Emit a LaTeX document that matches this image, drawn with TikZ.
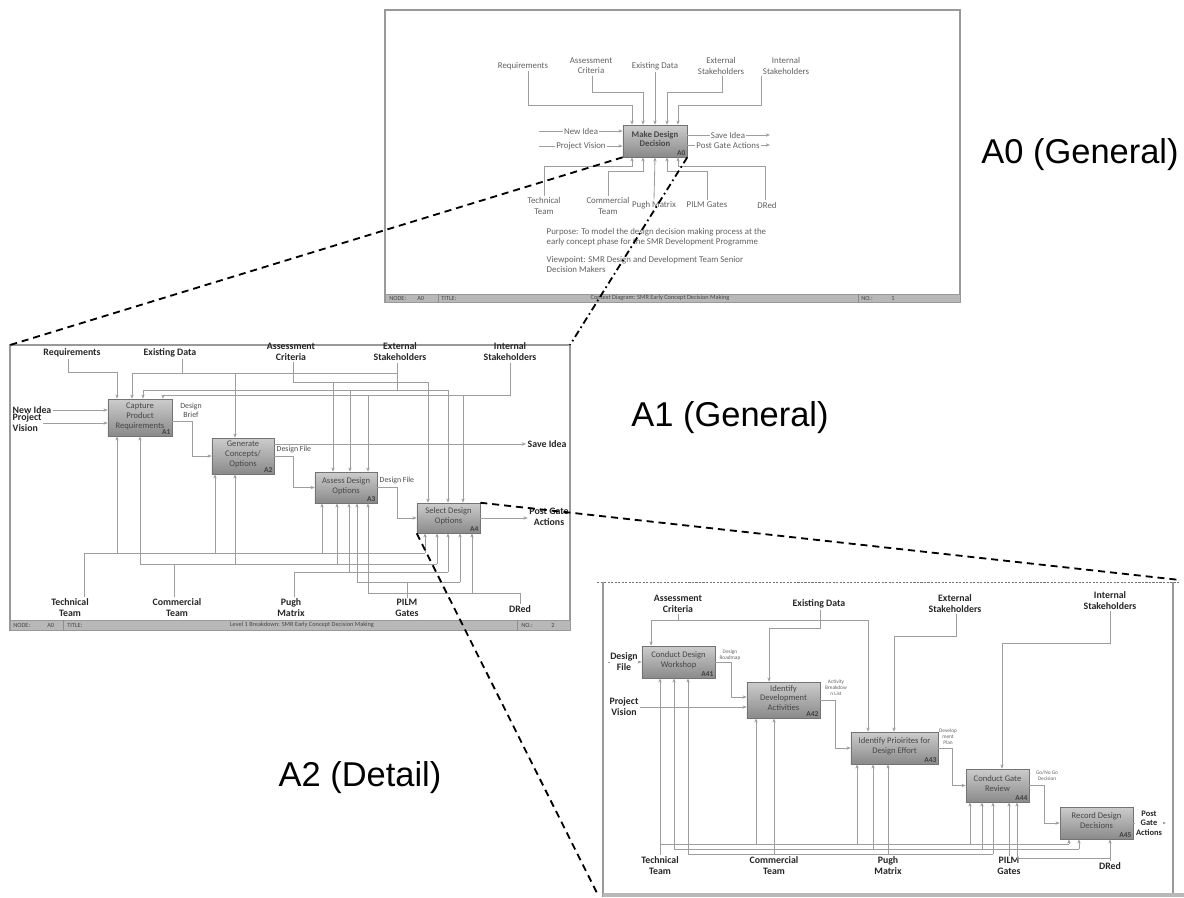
\documentclass[tikz,border=0pt]{standalone}
\usepackage{fontspec}
\setmainfont{Carlito}
\newfontfamily\headfont{Liberation Sans}
\usetikzlibrary{arrows.meta,positioning,calc}

\tikzset{
  act/.style={draw=black!55, top color=black!20, bottom color=black!46, inner sep=1pt,
    align=center, text=black!72, text depth=3pt, font=\fontsize{6.1}{7}\selectfont},
  num/.style={label={[anchor=south east, inner sep=1.2pt, text=black!75,
    font=\bfseries\fontsize{5.3}{6}\selectfont]south east:#1}},
  wire/.style={draw=black!38, line width=0.6pt},
  flow/.style={wire, -{Stealth[length=3pt,width=2.4pt]}},
  ctx/.style={text=black!62, align=center, inner sep=1pt, font=\fontsize{6.3}{7.2}\selectfont},
  tag/.style={text=black!85, align=center, inner sep=1pt, font=\bfseries\fontsize{7}{7.8}\selectfont},
  note/.style={text=black!62, align=center, inner sep=0.4pt, font=\fontsize{3.8}{4.3}\selectfont},
  frame/.style={draw=black!40, line width=0.8pt},
  bar/.style={fill=black!28, draw=black!40, line width=0.4pt},
  bartxt/.style={text=black!72, inner sep=0pt, font=\fontsize{4.5}{5}\selectfont},
  zoomline/.style={line width=1.3pt, dash pattern=on 5pt off 3.5pt},
  big/.style={font=\headfont\fontsize{24.5}{28}\selectfont},
}

\begin{document}
\begin{tikzpicture}[x=0.025cm, y=-0.025cm]
\useasboundingbox (0,0) rectangle (1184,897);

% panel corners
\coordinate (p1nw) at (10,345);
\coordinate (p1ne) at (570,345);
\coordinate (p2ne) at (1180,580);
\coordinate (p2sw) at (597,893);

%% ---------- A0 context diagram ----------
\draw[frame] (385,10) rectangle (960,302);
\draw[bar] (385,294) rectangle (960,302);
\draw[black!45] (438,294) -- (438,302) (858,294) -- (858,302);
\node[bartxt, anchor=west] (n0a) at (389,298) {NODE:};
\node[bartxt, anchor=west] (n0b) at (417,298) {A0};
\node[bartxt, anchor=west] (n0c) at (441,298) {TITLE:};
\node[bartxt] (n0d) at (660,298) {Context Diagram: SMR Early Concept Decision Making};
\node[bartxt, anchor=west] (n0e) at (861,298) {NO.:};
\node[bartxt] (n0f) at (893,298) {1};

\node[act, num=A0, minimum width=1.6cm, minimum height=0.8cm,
  font=\bfseries\fontsize{6.2}{7}\selectfont] (a0) at (655,141) {Make Design\\Decision};

\node[ctx] (lReq0) at (523,66) {Requirements};
\node[ctx] (lAss0) at (591,66) {Assessment\\Criteria};
\node[ctx] (lExi0) at (655,66) {Existing Data};
\node[ctx] (lExt0) at (721,66) {External\\Stakeholders};
\node[ctx] (lInt0) at (786,66) {Internal\\Stakeholders};

\draw[flow] (528,0 |- lReq0.south) |- (632,105) -- (632,0 |- a0.north);
\draw[flow] (592,0 |- lAss0.south) |- (643,92) -- (643,0 |- a0.north);
\draw[flow] (lExi0.south) -- (a0.north);
\draw[flow] (722,0 |- lExt0.south) |- (667,92) -- (667,0 |- a0.north);
\draw[flow] (761,0 |- lInt0.south) |- (678,105) -- (678,0 |- a0.north);

\draw[flow] (539,131) -- (a0.west |- 0,131);
\draw[flow] (539,146) -- (a0.west |- 0,146);
\draw[flow] (a0.east |- 0,135) -- (770,135);
\draw[flow] (a0.east |- 0,145) -- (770,145);
\node[ctx, fill=white] (lNew0) at (581,131) {New Idea};
\node[ctx, fill=white] (lPV0) at (581,146) {Project Vision};
\node[ctx, fill=white] (lSave0) at (728,135) {Save Idea};
\node[ctx, fill=white] (lPost0) at (728,145) {Post Gate Actions};

\node[ctx] (lTech0) at (544,206) {Technical\\Team};
\node[ctx] (lCom0) at (608,206) {Commercial\\Team};
\node[ctx] (lPugh0) at (654,205) {Pugh Matrix};
\node[ctx] (lPILM0) at (707,205) {PILM Gates};
\node[ctx] (lDRed0) at (767,205) {DRed};

\draw[flow] (544,0 |- lTech0.north) |- (632,166) -- (632,0 |- a0.south);
\draw[flow] (608,0 |- lCom0.north) |- (643,171) -- (643,0 |- a0.south);
\draw[flow] (lPugh0.north) -- (655,0 |- a0.south);
\draw[flow] (707,0 |- lPILM0.north) |- (667,171) -- (667,0 |- a0.south);
\draw[flow] (765,0 |- lDRed0.north) |- (678,166) -- (678,0 |- a0.south);

\node[ctx, anchor=north west, align=left] (lPurp) at (545,227)
  {Purpose: To model the design decision making process at the\\early concept phase for the SMR Development Programme};
\node[ctx, anchor=north west, align=left] (lView) at (545,255)
  {Viewpoint: SMR Design and Development Team Senior\\Decision Makers};

%% ---------- A1 level 1 breakdown ----------
\draw[frame] (p1nw) rectangle (570,630);
\draw[bar] (10,620) rectangle (570,630);
\draw[black!45] (63,620) -- (63,630) (517,620) -- (517,630);
\node[bartxt, anchor=west] (n1a) at (13,625) {NODE:};
\node[bartxt, anchor=west] (n1b) at (47,625) {A0};
\node[bartxt, anchor=west] (n1c) at (67,625) {TITLE:};
\node[bartxt] (n1d) at (302,625) {Level 1 Breakdown: SMR Early Concept Decision Making};
\node[bartxt, anchor=west] (n1e) at (521,625) {NO.:};
\node[bartxt] (n1f) at (553,625) {2};

\node[act, num=A1, minimum width=1.6cm, minimum height=0.925cm] (a1) at (140,417.5) {Capture\\Product\\Requirements};
\node[act, num=A2, minimum width=1.55cm, minimum height=0.9cm] (a2) at (243,456) {Generate\\Concepts/\\Options};
\node[act, num=A3, minimum width=1.55cm, minimum height=0.775cm] (a3) at (346,487.5) {Assess Design\\Options};
\node[act, num=A4, minimum width=1.575cm, minimum height=0.75cm] (a4) at (448.5,518) {Select Design\\Options};

\node[tag] (lReq1) at (72,353) {Requirements};
\node[tag] (lExi1) at (170,353) {Existing Data};
\node[tag] (lAss1) at (291,352) {Assessment\\Criteria};
\node[tag] (lExt1) at (400,352) {External\\Stakeholders};
\node[tag] (lInt1) at (510,352) {Internal\\Stakeholders};

% controls
\draw[flow] (68,0 |- lReq1.south) |- (117,372) -- (117,0 |- a1.north);
\draw[wire] (182,0 |- lExi1.south) -- (182,373);
\draw[wire] (132,373) -- (397,373);
\foreach \x/\b in {132/a1,235/a2}
  \draw[flow] (\x,373) -- (\x,0 |- \b.north);
\draw[wire] (293,0 |- lAss1.south) |- (428,382);
\foreach \x/\b in {333/a3,428/a4}
  \draw[flow] (\x,382) -- (\x,0 |- \b.north);
\draw[wire] (397,0 |- lExt1.south) -- (397,390);
\draw[wire] (143,390) -- (448,390);
\foreach \x/\b in {143/a1,350/a3,448/a4}
  \draw[flow] (\x,390) -- (\x,0 |- \b.north);
\draw[wire] (510,0 |- lInt1.south) |- (163,395);
\foreach \x/\b in {163/a1,368/a3,463/a4}
  \draw[flow] (\x,395) -- (\x,0 |- \b.north);

% inputs and outputs
\node[tag, anchor=west] (lNew1) at (11,410) {New Idea};
\node[tag, anchor=west, align=left] (lPV1) at (11,423) {Project\\Vision};
\draw[flow] (lNew1.east) -- (a1.west |- lNew1.east);
\draw[flow] (lPV1.east) -- (a1.west |- lPV1.east);
\draw[flow] (a1.east |- 0,421) -| (192,456) -- (a2.west);
\node[ctx, text=black!70, font=\fontsize{5.6}{6.4}\selectfont] (lBrief) at (191,410) {Design\\Brief};
\node[tag, anchor=west] (lSave1) at (526,444) {Save Idea};
\draw[flow] (a2.east |- 0,444) -- (lSave1.west);
\draw[flow] (a2.east) -| (293,0 |- a3.west) -- (a3.west);
\node[ctx, text=black!70, anchor=south west, font=\fontsize{5.6}{6.4}\selectfont] (lFile1) at (275,455) {Design File};
\draw[flow] (a3.east) -| (397,0 |- a4.west) -- (a4.west);
\node[ctx, text=black!70, anchor=south west, font=\fontsize{5.6}{6.4}\selectfont] (lFile2) at (378,486) {Design File};
\node[tag] (lOut1) at (549,517) {Post Gate\\Actions};
\draw[flow] (a4.east) -- (lOut1.west |- a4.east);

% mechanisms
\node[tag] (lTech1) at (70,608) {Technical\\Team};
\node[tag] (lCom1) at (177,608) {Commercial\\Team};
\node[tag] (lPugh1) at (291,608) {Pugh\\Matrix};
\node[tag] (lPILM1) at (407,608) {PILM\\Gates};
\node[tag] (lDRed1) at (520,609) {DRed};

\draw[wire] (84,0 |- lTech1.north) |- (425,553);
\foreach \x/\b in {117/a1,215/a2,322/a3,425/a4}
  \draw[flow] (\x,553) -- (\x,0 |- \b.south);
\draw[wire] (174,0 |- lCom1.north) -- (174,564);
\draw[wire] (140,564) -- (437,564);
\foreach \x/\b in {140/a1,235/a2,337/a3,437/a4}
  \draw[flow] (\x,564) -- (\x,0 |- \b.south);
\draw[wire] (294,0 |- lPugh1.north) |- (448,572);
\foreach \x/\b in {349/a3,448/a4}
  \draw[flow] (\x,572) -- (\x,0 |- \b.south);
\draw[wire] (407,0 |- lPILM1.north) -- (407,582);
\draw[wire] (357,582) -- (460,582);
\foreach \x/\b in {357/a3,460/a4}
  \draw[flow] (\x,582) -- (\x,0 |- \b.south);
\draw[wire] (lDRed1.north) |- (368,593);
\foreach \x/\b in {368/a3,472/a4}
  \draw[flow] (\x,593) -- (\x,0 |- \b.south);

%% ---------- A4 detail ----------
\draw[black!55, line width=0.5pt, dash pattern=on 1.5pt off 1pt] (597,582) -- (1180,582);
\draw[frame] (603,582) -- (603,897);
\draw[frame] (1173,582) -- (1173,893);
\fill[black!28] (603,893) rectangle (1184,897);

\node[act, num=A41, minimum width=1.825cm, minimum height=0.8cm] (a41) at (678.5,662) {Conduct Design\\Workshop};
\node[act, num=A42, minimum width=1.825cm, minimum height=0.9cm] (a42) at (783.5,700) {Identify\\Development\\Activities};
\node[act, num=A43, minimum width=2.175cm, minimum height=0.8cm] (a43) at (894.5,748) {Identify Prioirites for\\Design Effort};
\node[act, num=A44, minimum width=1.575cm, minimum height=0.825cm] (a44) at (997.5,785.5) {Conduct Gate\\Review};
\node[act, num=A45, minimum width=1.825cm, minimum height=0.8cm] (a45) at (1096.5,823) {Record Design\\Decisions};

\node[tag] (lAss4) at (678,603.5) {Assessment\\Criteria};
\node[tag] (lExi4) at (819,604) {Existing Data};
\node[tag] (lExt4) at (955,603.5) {External\\Stakeholders};
\node[tag] (lInt4) at (1110,600.5) {Internal\\Stakeholders};

\draw[wire] (lAss4.south) -- (678,620);
\draw[wire] (651,620) -- (868,620);
\foreach \x/\b in {651/a41,868/a43}
  \draw[flow] (\x,620) -- (\x,0 |- \b.north);
\draw[flow] (820,0 |- lExi4.south) |- (769,628) -- (769,0 |- a42.north);
\draw[flow] (956,0 |- lExt4.south) |- (894,636) -- (894,0 |- a43.north);
\draw[flow] (1110,0 |- lInt4.south) |- (1002,643) -- (1002,0 |- a44.north);

\draw[flow] (608,662) -- (a41.west);
\node[tag, fill=white, inner sep=0.5pt] (lDF4) at (624,662) {Design\\File};
\node[tag] (lPV4) at (624,707) {Project\\Vision};
\draw[flow] (lPV4.east) -- (a42.west |- lPV4.east);

\draw[flow] (a41.east) -| (731,697) -- (a42.west |- 0,697);
\node[note] (lRoad) at (730,655) {Design\\Roadmap};
\draw[flow] (a42.east) -| (835,0 |- a43.west) -- (a43.west);
\node[note] (lList) at (836,688) {Activity\\Breakdow\\n List};
\draw[flow] (a43.east) -| (952,0 |- a44.west) -- (a44.west);
\node[note] (lPlan) at (948,737) {Develop\\ment\\Plan};
\draw[flow] (a44.east) -| (1044,0 |- a45.west) -- (a45.west);
\node[note] (lGo) at (1047,776) {Go/No Go\\Decision};
\draw[flow] (a45.east) -- (1166,823);
\node[tag, fill=white, inner sep=0.5pt, font=\bfseries\fontsize{6}{6.8}\selectfont] (lOut4) at (1149,823) {Post\\Gate\\Actions};

\node[tag] (lTech4) at (660,866) {Technical\\Team};
\node[tag] (lCom4) at (774,866) {Commercial\\Team};
\node[tag] (lPugh4) at (888,866) {Pugh\\Matrix};
\node[tag] (lPILM4) at (1009,866) {PILM\\Gates};
\node[tag] (lDRed4) at (1110,866) {DRed};

\draw[flow] (660,0 |- lTech4.north) -- (660,0 |- a41.south);
\draw[wire] (660,844) -- (1069,844);
\foreach \x/\b in {756/a42,857/a43,970/a44,1069/a45}
  \draw[flow] (\x,844) -- (\x,0 |- \b.south);
\draw[flow] (774,0 |- lCom4.north) -- (774,0 |- a42.south);
\draw[wire] (674,849) -- (1079,849);
\foreach \x/\b in {674/a41,873/a43,982/a44,1079/a45}
  \draw[flow] (\x,849) -- (\x,0 |- \b.south);
\draw[flow] (888,0 |- lPugh4.north) -- (888,0 |- a43.south);
\draw[wire] (688,854) -- (993,854);
\foreach \x/\b in {688/a41,993/a44}
  \draw[flow] (\x,854) -- (\x,0 |- \b.south);
\draw[flow] (1009,0 |- lPILM4.north) -- (1009,0 |- a44.south);
\draw[flow] (lDRed4.north) -- (1110,0 |- a45.south);
\draw[wire] (1017,858) -- (1110,858);
\draw[flow] (1017,858) -- (1017,0 |- a44.south);

%% ---------- level captions and zoom lines ----------
\node[big] (tA0) at (1080,155) {A0 (General)};
\node[big] (tA1) at (730,418) {A1 (General)};
\node[big] (tA2) at (360,778) {A2 (Detail)};

\draw[zoomline] (a0.south west) -- (p1nw);
\draw[zoomline, dash pattern=on 5pt off 2.5pt on 1.2pt off 2.5pt] (a0.south east) -- (p1ne);
\draw[zoomline] (a4.north east) -- (p2ne);
\draw[zoomline] (a4.south west) -- (p2sw);
\end{tikzpicture}
\end{document}
